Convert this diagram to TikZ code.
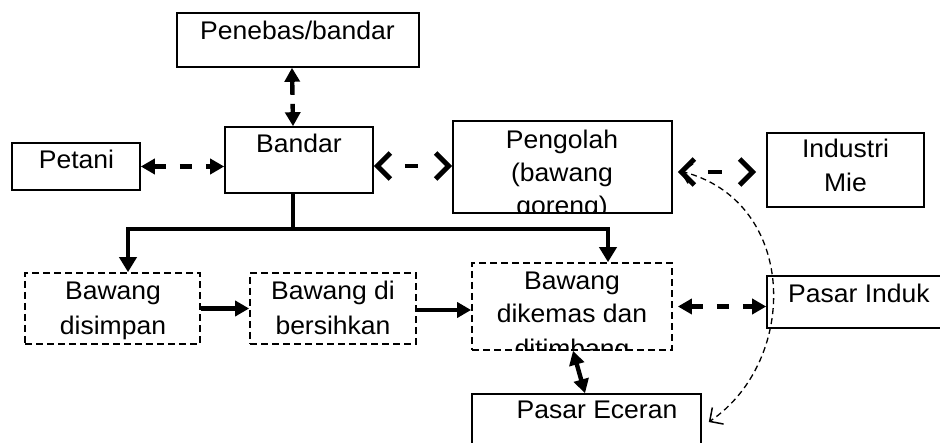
\documentclass[tikz,border=0pt]{standalone}
\usepackage{fontspec}
\setmainfont{Liberation Sans}[FakeStretch=1.04]
\usetikzlibrary{arrows.meta,calc}
\begin{document}
\begin{tikzpicture}[x=1pt,y=-1pt,
  box/.style={draw, line width=1.6pt, inner sep=0pt},
  dbox/.style={box, line width=1.7pt, dash pattern=on 7pt off 4pt},
  lbl/.style={inner sep=0pt, anchor=base, font=\fontsize{25.5}{34}\selectfont},
  conn/.style={line width=4.4pt},
  head/.tip={Triangle[length=14pt,width=15pt]},
  tri/.style={-head},
  bitri/.style={head-head},
  dsh/.style={dash pattern=on 12pt off 14pt},
  barb/.tip={Straight Barb[length=13pt,width=26pt,line width=5pt]},
  thinbarb/.tip={Straight Barb[length=10pt,width=20pt,line width=1.5pt]}
]
\useasboundingbox (0,0) rectangle (940,443);
\clip (0,0) rectangle (940,443);

% boxes
\node[box, minimum width=242pt, minimum height=54pt] (penebas) at (298,40) {};
\node[box, minimum width=148pt, minimum height=66pt] (bandar) at (299,160) {};
\node[box, minimum width=128pt, minimum height=47pt] (petani) at (76,166.5) {};
\node[box, minimum width=219pt, minimum height=92pt] (pengolah) at (562.5,167) {};
\node[box, minimum width=157pt, minimum height=74pt] (industri) at (845.5,170) {};
\node[dbox, minimum width=175pt, minimum height=71pt] (disimpan) at (112.5,308.5) {};
\node[dbox, minimum width=166pt, minimum height=71pt] (bersih) at (333,308.5) {};
\node[dbox, minimum width=200pt, minimum height=87pt] (dikemas) at (572,306.5) {};
\node[box, minimum width=190pt, minimum height=52pt] (induk) at (862,302) {};
\node[box, minimum width=229pt, minimum height=70pt] (eceran) at (586.5,429) {};

% labels
\node[lbl] (penebas-t) at (297.5,40) {Penebas/bandar};
\node[lbl] (bandar-t) at (299,153) {Bandar};
\node[lbl] (petani-t) at (76.5,169) {Petani};
\begin{scope}
  \clip (pengolah.north west) rectangle (pengolah.south east);
  \node[lbl] (pengolah-1) at (562,149) {Pengolah};
  \node[lbl] (pengolah-2) at (562,182) {(bawang};
  \node[lbl] (pengolah-3) at (562,215) {goreng)};
\end{scope}
\node[lbl] (industri-1) at (845.5,158) {Industri};
\node[lbl] (industri-2) at (845.5,192) {Mie};
\node[lbl] (disimpan-1) at (113,300) {Bawang};
\node[lbl] (disimpan-2) at (113,335) {disimpan};
\node[lbl] (bersih-1) at (333,300) {Bawang di};
\node[lbl] (bersih-2) at (333,335) {bersihkan};
\begin{scope}
  \clip (dikemas.north west) rectangle (dikemas.south east);
  \node[lbl] (dikemas-1) at (572,290) {Bawang};
  \node[lbl] (dikemas-2) at (572,323) {dikemas dan};
  \node[lbl] (dikemas-3) at (572,358) {ditimbang};
\end{scope}
\node[lbl] (induk-t) at (859,303) {Pasar Induk};
\node[lbl] (eceran-t) at (597,419) {Pasar Eceran};

% two-way links around Bandar
\draw[conn, bitri, dash pattern=on 14pt off 9pt] ([xshift=-6pt]penebas.south) -- ([xshift=-6pt]bandar.north);
\draw[conn, bitri, dsh] (petani.east) -- (petani.east -| bandar.west);
\draw[conn, barb-barb, dash pattern=on 0pt off 25pt on 13pt off 100pt]
  ([yshift=-6pt]bandar.east) -- ([yshift=-6pt]bandar.east -| pengolah.west);
\draw[conn, barb-barb, dash pattern=on 0pt off 24pt on 14pt off 100pt, shorten <=5pt, shorten >=10pt]
  ($(pengolah.east)+(0,5)$) coordinate (po) -- (po -| industri.west);

% distribution from Bandar
\coordinate (junction) at ($(bandar.south)+(-6,35)$);
\draw[conn] ([xshift=-6pt]bandar.south) -- (junction);
\draw[conn, -{Triangle[length=15pt,width=17pt]}] (junction) -| ([xshift=15.5pt]disimpan.north);
\draw[conn, -{Triangle[length=15pt,width=17pt]}] (junction) -| ([xshift=36pt]dikemas.north);

% processing chain
\draw[conn, tri] (disimpan.east) -- (bersih.west);
\draw[conn, tri] ([yshift=-1.5pt]bersih.east) -- ([yshift=-1.5pt]bersih.east -| dikemas.west);
\draw[conn, bitri, dsh, shorten <=5pt] (dikemas.east) -- (dikemas.east -| induk.west);
\draw[conn, bitri] ([xshift=1pt]dikemas.south) -- ([xshift=-1.5pt]eceran.north);

% dashed return path from Pengolah to Pasar Eceran
\coordinate (arcstart) at ($(pengolah.east)+(7,4)$);
\draw[line width=1.3pt, dash pattern=on 6pt off 4pt, thinbarb-thinbarb]
  (arcstart) .. controls (798,200) and (800,360) .. ($(eceran.east)+(7,-7)$);
\end{tikzpicture}
\end{document}
